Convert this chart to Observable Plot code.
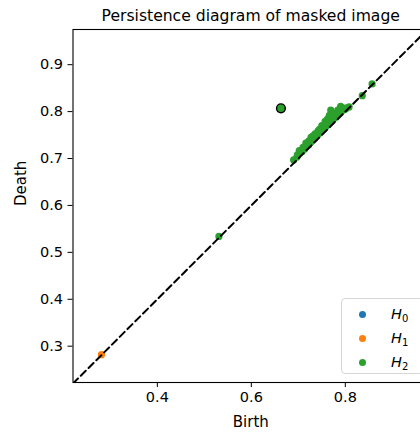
<!DOCTYPE html>
<html><head><meta charset="utf-8">
<script src="https://cdn.jsdelivr.net/npm/d3@7"></script>
<script src="https://cdn.jsdelivr.net/npm/@observablehq/plot@0.6"></script>
<style>
html,body{margin:0;padding:0;background:#fff;overflow:hidden;}
#wrap{position:relative;width:420px;height:432px;overflow:hidden;font-family:"DejaVu Sans",sans-serif;}
#wrap svg{display:block;max-width:none !important;width:428px !important;height:432px !important;}
#legend{position:absolute;left:341px;top:298px;width:82px;height:76px;border:1px solid #d6d6d6;border-radius:4px;background:rgba(255,255,255,0.8);box-sizing:border-box;}
.row{position:absolute;left:0;height:20px;width:80px;}
.dot{position:absolute;left:17px;top:6.5px;width:7px;height:7px;border-radius:50%;}
.lab{position:absolute;left:49px;top:0;font-family:"DejaVu Sans",sans-serif;font-style:italic;font-size:14.5px;line-height:20px;color:#000;}
.lab sub{font-style:normal;font-size:10px;vertical-align:-3px;line-height:0;}
</style>
</head><body>
<div id="wrap"></div>
<script>
// Persistence pairs (birth, death, homology dimension)
const birth = [0.281, 0.531, 0.836, 0.857,
  0.690,0.697,0.703,0.708,0.713,0.718,0.722,0.727,0.731,0.735,0.739,0.743,0.747,0.751,0.755,0.759,0.763,0.767,0.771,0.775,0.779,0.783,0.787,0.791,0.795,0.799,0.803,
  0.702,0.716,0.727,0.7375,0.745,0.754,0.760,0.769,0.780,0.7945,0.800,0.773,0.787,0.808,
  0.698,0.710,0.722,0.730,0.742,0.750,0.762,0.775,0.784,0.790,0.766,0.757,0.735];
const death = [0.282, 0.534, 0.834, 0.859,
  0.697,0.703,0.712,0.715,0.720,0.726,0.729,0.735,0.740,0.744,0.748,0.752,0.757,0.761,0.764,0.768,0.772,0.776,0.780,0.784,0.788,0.792,0.796,0.799,0.803,0.806,0.808,
  0.717,0.733,0.745,0.753,0.762,0.768,0.776,0.803,0.796,0.808,0.805,0.790,0.800,0.810,
  0.708,0.724,0.737,0.747,0.759,0.770,0.784,0.797,0.803,0.811,0.792,0.779,0.752];
const dim = [1, 2, 2, 2,
  2,2,2,2,2,2,2,2,2,2,2,2,2,2,2,2,2,2,2,2,2,2,2,2,2,2,2,
  2,2,2,2,2,2,2,2,2,2,2,2,2,2,
  2,2,2,2,2,2,2,2,2,2,2,2,2];
// highlighted (most persistent) H2 pair
const highlightBirth = [0.663];
const highlightDeath = [0.807];
const highlightDim = [2];

const dims = [0, 1, 2];
const dimLabels = ["H0", "H1", "H2"];
const dimColors = ["#1f77b4", "#ff7f0e", "#2ca02c"];
const xTicks = [0.4, 0.6, 0.8];
const yTicks = [0.3, 0.4, 0.5, 0.6, 0.7, 0.8, 0.9];
const titleText = "Persistence diagram of masked image";
const xLabel = "Birth";
const yLabel = "Death";
const xDomain = [0.2205, 0.977];
const yDomain = [0.2226, 0.975];
const diagLo = 0.2205, diagHi = 0.977;

const pts = birth.map((b, i) => ({birth: b, death: death[i], dim: dim[i]}));
const hl = highlightBirth.map((b, i) => ({birth: b, death: highlightDeath[i], dim: highlightDim[i]}));
const diag = [{v: diagLo}, {v: diagHi}];

const chart = Plot.plot({
  width: 428,
  height: 432,
  marginLeft: 72.5,
  marginRight: 0,
  marginTop: 29,
  marginBottom: 50,
  style: {fontFamily: "DejaVu Sans, sans-serif", fontSize: "14.5px", color: "#000", background: "#fff"},
  x: {domain: xDomain},
  y: {domain: yDomain},
  color: {domain: dims, range: dimColors},
  marks: [
    Plot.dot(pts, {x: "birth", y: "death", fill: d => d.dim, r: 3.6, stroke: null, clip: true}),
    Plot.dot(hl, {x: "birth", y: "death", fill: d => d.dim, r: 4.4, stroke: "#000", strokeWidth: 1.4}),
    Plot.line(diag, {x: "v", y: "v", stroke: "#000", strokeWidth: 2, strokeDasharray: "7,4", clip: true}),
    Plot.frame({stroke: "#000", strokeWidth: 1.1}),
    Plot.axisX({ticks: xTicks, tickSize: 5, tickPadding: 4, tickFormat: d3.format(".1f"), label: null, fontSize: "14.5px", strokeWidth: 1}),
    Plot.axisY({ticks: yTicks, tickSize: 5, tickPadding: 5, tickFormat: d3.format(".1f"), label: null, fontSize: "14.5px", strokeWidth: 1}),
    Plot.text([xLabel], {frameAnchor: "bottom", lineAnchor: "middle", dy: 40, fontSize: 15, fill: "#000"}),
    Plot.text([yLabel], {frameAnchor: "left", dx: -52, rotate: -90, fontSize: 15, fill: "#000"}),
    Plot.text([titleText], {frameAnchor: "top", lineAnchor: "middle", dy: -14, fontSize: 15.6, fill: "#000"})
  ]
});
const wrap = document.getElementById("wrap");
wrap.appendChild(chart);

// legend
const leg = document.createElement("div");
leg.id = "legend";
dims.forEach((d, i) => {
  const row = document.createElement("div");
  row.className = "row";
  row.style.top = (5 + i * 24) + "px";
  const dot = document.createElement("div");
  dot.className = "dot";
  dot.style.background = dimColors[i];
  const lab = document.createElement("div");
  lab.className = "lab";
  lab.innerHTML = dimLabels[i][0] + "<sub>" + dimLabels[i].slice(1) + "</sub>";
  row.appendChild(dot); row.appendChild(lab);
  leg.appendChild(row);
});
wrap.appendChild(leg);
</script>
</body></html>
